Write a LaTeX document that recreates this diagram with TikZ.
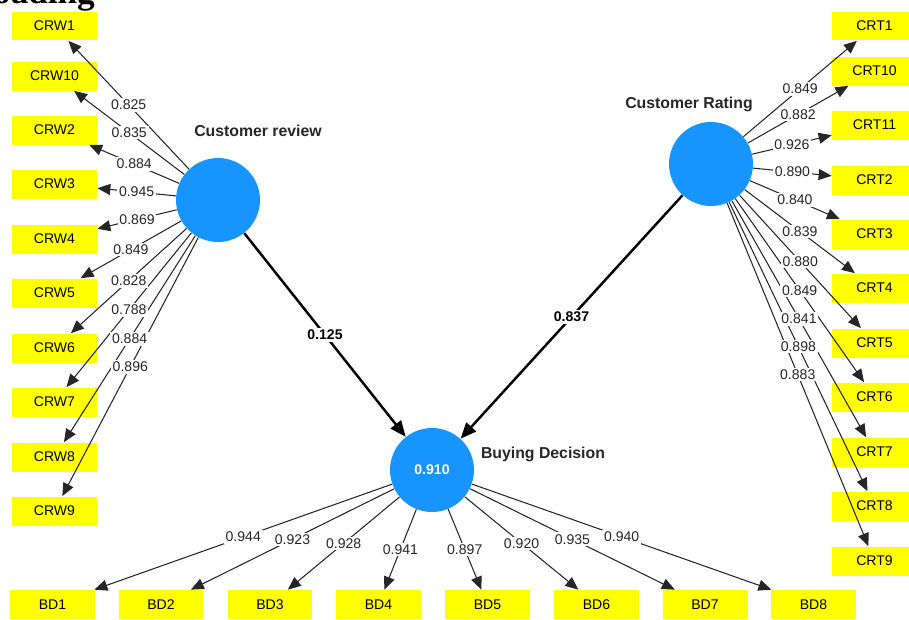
\documentclass[tikz,border=0pt]{standalone}
\usepackage{fontspec}
\setmainfont{Liberation Sans}
\newfontfamily\headfont{Liberation Serif}
\usetikzlibrary{positioning}
\usetikzlibrary{arrows.meta}
\definecolor{lvblue}{RGB}{24,148,255}
\definecolor{mvyellow}{RGB}{255,255,0}
\tikzset{
    latent/.style = {circle, fill=lvblue, minimum size=1.68cm, inner sep=0pt, text=white, font=\fontsize{8}{9}\selectfont\bfseries},
    indic/.style = {rectangle, fill=mvyellow, minimum width=1.7cm, minimum height=0.58cm, inner sep=0pt, font=\fontsize{8}{9}\selectfont},
    lvname/.style = {font=\fontsize{9}{10}\selectfont\bfseries, text=black!85},
    loadv/.style = {fill=white, inner sep=1pt, font=\fontsize{8}{9}\selectfont, text=black!85},
    pathv/.style = {fill=white, inner sep=1pt, font=\fontsize{8}{9}\selectfont\bfseries},
    edgel/.style = {-{Triangle[length=0.26cm,width=0.22cm]}, line width=0.6pt, black!85},
    edgep/.style = {-{Triangle[length=0.32cm,width=0.26cm]}, line width=1.4pt, black}
}

\begin{document}
\begin{tikzpicture}[x=0.02cm, y=-0.02cm]
  \useasboundingbox (0,0) rectangle (909,619);

  \node[anchor=base east, font=\headfont\fontsize{20}{24}\selectfont\bfseries] at (101,3) (ttl) {Loading};

  % latent variables
  \node[latent] at (218,200) (crw) {};
  \node[latent] at (711,164) (crt) {};
  \node[latent] at (432,470) (bd) {0.910};
  \node[lvname] at (258,131) (crwname) {Customer review};
  \node[lvname] at (689,104) (crtname) {Customer Rating};
  \node[lvname] at (543,454) (bdname) {Buying Decision};

  % customer review indicators
  \node[indic] at (54.5,26) (crw1) {CRW1};
  \node[indic] at (54.5,76) (crw10) {CRW10};
  \node[indic] at (54.5,130) (crw2) {CRW2};
  \node[indic] at (54.5,184) (crw3) {CRW3};
  \node[indic] at (54.5,239) (crw4) {CRW4};
  \node[indic] at (54.5,293) (crw5) {CRW5};
  \node[indic] at (54.5,348) (crw6) {CRW6};
  \node[indic] at (54.5,402) (crw7) {CRW7};
  \node[indic] at (54.5,457) (crw8) {CRW8};
  \node[indic] at (54.5,511) (crw9) {CRW9};

  % customer rating indicators
  \node[indic] at (874.5,26) (crt1) {CRT1};
  \node[indic] at (874.5,71) (crt10) {CRT10};
  \node[indic] at (874.5,125) (crt11) {CRT11};
  \node[indic] at (874.5,180) (crt2) {CRT2};
  \node[indic] at (874.5,234) (crt3) {CRT3};
  \node[indic] at (874.5,288) (crt4) {CRT4};
  \node[indic] at (874.5,343) (crt5) {CRT5};
  \node[indic] at (874.5,397) (crt6) {CRT6};
  \node[indic] at (874.5,452) (crt7) {CRT7};
  \node[indic] at (874.5,506) (crt8) {CRT8};
  \node[indic] at (874.5,561) (crt9) {CRT9};

  % buying decision indicators
  \node[indic] at (52.5,604.5) (bd1) {BD1};
  \node[indic] at (161,604.5) (bd2) {BD2};
  \node[indic] at (270,604.5) (bd3) {BD3};
  \node[indic] at (378.5,604.5) (bd4) {BD4};
  \node[indic] at (487.5,604.5) (bd5) {BD5};
  \node[indic] at (596.5,604.5) (bd6) {BD6};
  \node[indic] at (705,604.5) (bd7) {BD7};
  \node[indic] at (813.5,604.5) (bd8) {BD8};

  % loadings: lines first, values on top
  \foreach \s/\n in {crw/crw1,crw/crw10,crw/crw2,crw/crw3,crw/crw4,crw/crw5,crw/crw6,crw/crw7,crw/crw8,crw/crw9,
                     crt/crt1,crt/crt10,crt/crt11,crt/crt2,crt/crt3,crt/crt4,crt/crt5,crt/crt6,crt/crt7,crt/crt8,crt/crt9,
                     bd/bd1,bd/bd2,bd/bd3,bd/bd4,bd/bd5,bd/bd6,bd/bd7,bd/bd8}
    \draw[edgel] (\s) -- (\n);
  \foreach \s/\n/\v in {crw/crw1/0.825,crw/crw10/0.835,crw/crw2/0.884,crw/crw3/0.945,crw/crw4/0.869,
                        crw/crw5/0.849,crw/crw6/0.828,crw/crw7/0.788,crw/crw8/0.884,crw/crw9/0.896,
                        crt/crt1/0.849,crt/crt10/0.882,crt/crt11/0.926,crt/crt2/0.890,crt/crt3/0.840,crt/crt4/0.839,
                        crt/crt5/0.880,crt/crt6/0.849,crt/crt7/0.841,crt/crt8/0.898,crt/crt9/0.883,
                        bd/bd1/0.944,bd/bd2/0.923,bd/bd3/0.928,bd/bd4/0.941,bd/bd5/0.897,bd/bd6/0.920,bd/bd7/0.935,bd/bd8/0.940}
    \path (\s) -- node[loadv] {\v} (\n);

  % path coefficients
  \draw[edgep] (crw) -- node[pathv] {0.125} (bd);
  \draw[edgep] (crt) -- node[pathv] {0.837} (bd);

\end{tikzpicture}
\end{document}
